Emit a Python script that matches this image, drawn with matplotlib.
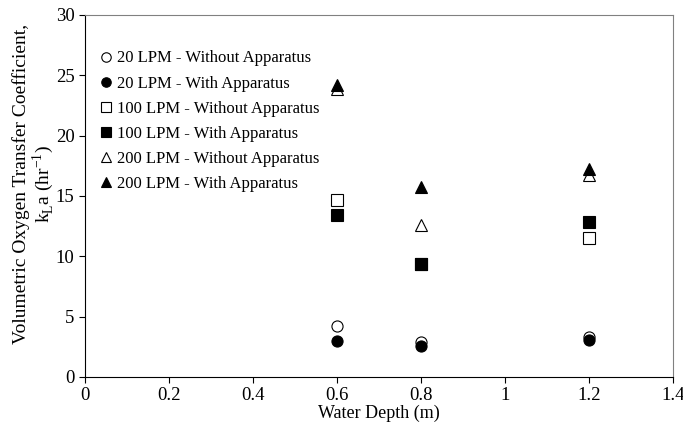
import matplotlib
matplotlib.use('Agg')
import numpy as np
import matplotlib.pyplot as plt

plt.rcParams['font.family'] = ['Liberation Serif', 'DejaVu Serif']
plt.rcParams['mathtext.fontset'] = 'custom'
plt.rcParams['mathtext.rm'] = 'Liberation Serif'

depth = [0.6, 0.8, 1.2]

lpm20_without = [4.2, 2.9, 3.3]
lpm20_with = [3.0, 2.6, 3.1]
lpm100_without = [14.7, 9.4, 11.5]
lpm100_with = [13.4, 9.4, 12.8]
lpm200_without = [23.9, 12.6, 16.7]
lpm200_with = [24.2, 15.7, 17.2]

series = [
    ('20 LPM - Without Apparatus', lpm20_without, 'o', 'white'),
    ('20 LPM - With Apparatus', lpm20_with, 'o', 'black'),
    ('100 LPM - Without Apparatus', lpm100_without, 's', 'white'),
    ('100 LPM - With Apparatus', lpm100_with, 's', 'black'),
    ('200 LPM - Without Apparatus', lpm200_without, '^', 'white'),
    ('200 LPM - With Apparatus', lpm200_with, '^', 'black'),
]

fig = plt.figure(figsize=(6.83, 4.25), dpi=100)
ax = fig.add_axes([0.1245, 0.113, 0.8605, 0.852])

for label, vals, m, fc in series:
    ax.plot(depth, vals, linestyle='none', marker=m, markersize=8,
            markerfacecolor=fc, markeredgecolor='black', markeredgewidth=0.8,
            label=label)

ax.set_xlim(0, 1.4)
ax.set_ylim(0, 30)
ax.set_xticks([0, 0.2, 0.4, 0.6, 0.8, 1, 1.2, 1.4])
ax.set_xticklabels(['0', '0.2', '0.4', '0.6', '0.8', '1', '1.2', '1.4'])
ax.set_yticks([0, 5, 10, 15, 20, 25, 30])
ax.tick_params(direction='out', length=4, labelsize=13.5, width=0.8)

ax.spines['top'].set_color('#808080')
ax.spines['right'].set_color('#808080')

ax.set_xlabel('Water Depth (m)', fontsize=13, labelpad=0)
ax.set_ylabel('Volumetric Oxygen Transfer Coefficient,\n'
              r'k$_\mathrm{L}$a (hr$^{-1}$)', fontsize=14, linespacing=1.0)
ax.yaxis.set_label_coords(-0.05, 0.533)

ax.legend(loc='upper left', bbox_to_anchor=(0.0, 0.934), frameon=False,
          fontsize=12, handletextpad=0.1, labelspacing=0.55,
          handlelength=1.1, markerscale=0.85, borderaxespad=0.3)

fig.savefig('out.png', dpi=100)
